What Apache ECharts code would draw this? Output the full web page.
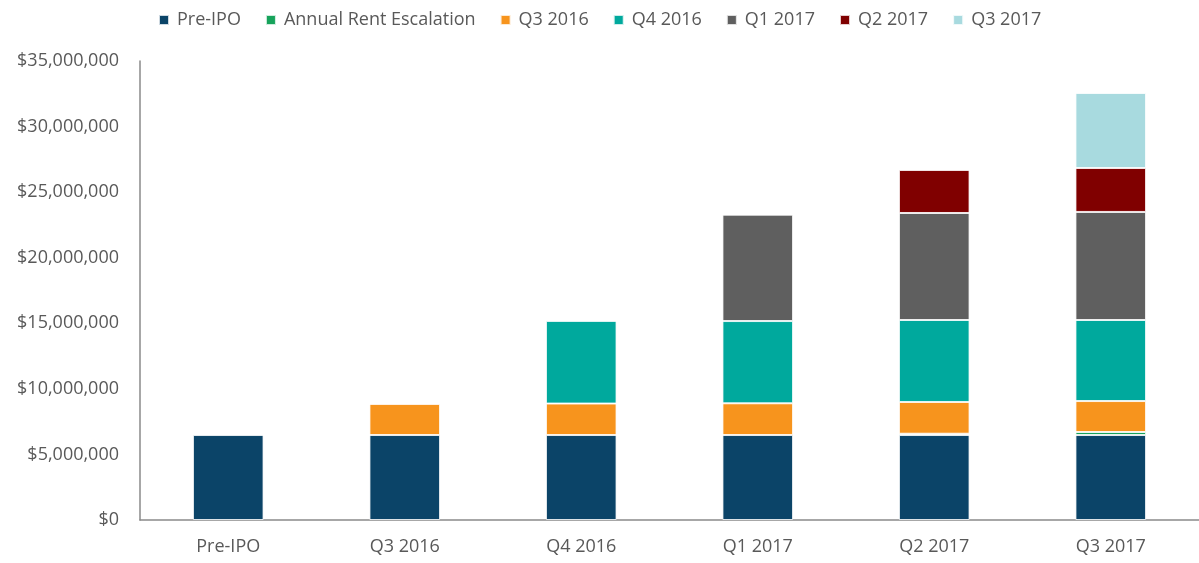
<!DOCTYPE html>
<html>
<head>
<meta charset="utf-8">
<script src="https://cdn.jsdelivr.net/npm/echarts@6/dist/echarts.min.js"></script>
<style>
  html, body { margin: 0; padding: 0; background: #fff; }
  #chart { width: 1199px; height: 563px; }
</style>
</head>
<body>
<div id="chart"></div>
<script>
const categories = ['Pre-IPO', 'Q3 2016', 'Q4 2016', 'Q1 2017', 'Q2 2017', 'Q3 2017']
const seriesNames = ['Pre-IPO', 'Annual Rent Escalation', 'Q3 2016', 'Q4 2016', 'Q1 2017', 'Q2 2017', 'Q3 2017']
const colors = ['#0B4468', '#17A35B', '#F7941D', '#00A99D', '#5F5F5F', '#800000', '#A8DADF']

const preIpo = [6480000, 6480000, 6480000, 6480000, 6480000, 6480000]
const rentEscalation = [0, 0, 0, 0, 100000, 230000]
const q32016 = [0, 2370000, 2400000, 2420000, 2420000, 2360000]
const q42016 = [0, 0, 6300000, 6270000, 6250000, 6180000]
const q12017 = [0, 0, 0, 8110000, 8160000, 8240000]
const q22017 = [0, 0, 0, 0, 3280000, 3350000]
const q32017 = [0, 0, 0, 0, 0, 5720000]

const seriesData = [preIpo, rentEscalation, q32016, q42016, q12017, q22017, q32017]

const chart = echarts.init(document.getElementById('chart'))
const textColor = '#595959'
const font = '"Open Sans", Lato, sans-serif'

const option = {
  color: colors,
  animation: false,
  legend: {
    top: 6,
    left: 153,
    icon: 'rect',
    itemWidth: 10,
    itemHeight: 10,
    itemGap: 24,
    textStyle: { color: textColor, fontSize: 18, fontFamily: font, padding: [0, 0, 0, 3] },
    data: seriesNames
  },
  grid: {
    left: 140,
    right: -7,
    top: 61,
    bottom: 43
  },
  xAxis: {
    type: 'category',
    data: categories,
    axisLine: { lineStyle: { color: '#8a8a8a', width: 1.5 } },
    axisTick: { show: false },
    axisLabel: { color: textColor, fontSize: 18, fontFamily: font, margin: 18 }
  },
  yAxis: {
    type: 'value',
    min: 0,
    max: 35000000,
    interval: 5000000,
    splitLine: { show: false },
    axisLine: { show: true, lineStyle: { color: '#8a8a8a', width: 1.5 } },
    axisTick: { show: false },
    axisLabel: {
      color: textColor,
      fontSize: 18,
      fontFamily: font,
      margin: 21,
      formatter: v => '$' + v.toLocaleString('en-US')
    }
  },
  series: seriesNames.map((name, i) => ({
    name: name,
    type: 'bar',
    stack: 'total',
    barWidth: '40%',
    data: seriesData[i].map(v => (v === 0 ? '-' : v)),
    itemStyle: { borderColor: 'rgba(255,255,255,0.8)', borderWidth: 1 }
  }))
}

chart.setOption(option)
</script>
</body>
</html>
